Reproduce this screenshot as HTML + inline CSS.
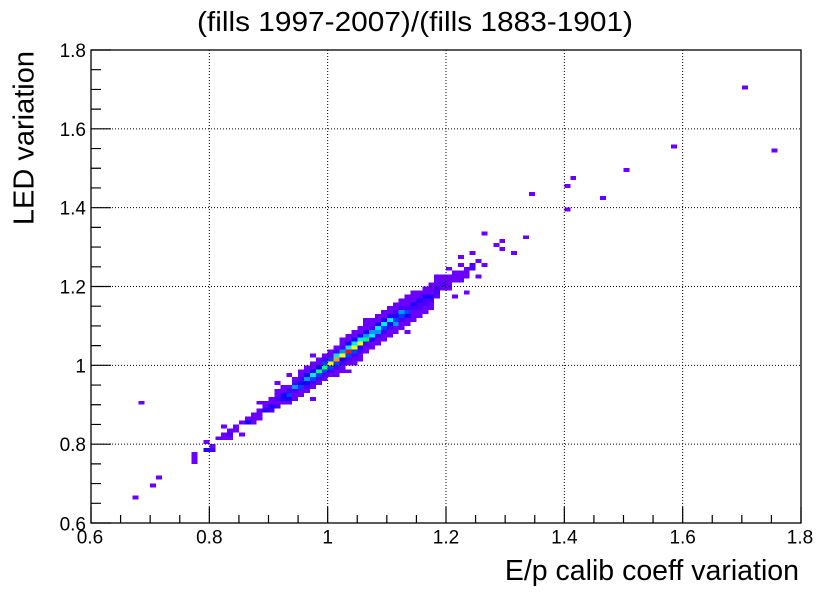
<!DOCTYPE html>
<html>
<head>
<meta charset="utf-8">
<style>
html,body{margin:0;padding:0;background:#fff;}
svg{display:block;}
text{font-family:"Liberation Sans",Arial,sans-serif;fill:#000;}
.c1{fill:#6a00ff}.c2{fill:#4a00ff}.c3{fill:#1c00ff}.c4{fill:#0040ff}.c5{fill:#0098ff}
.c6{fill:#00eaff}.c7{fill:#00ff6a}.c8{fill:#7cff00}.c9{fill:#f0ff00}.c10{fill:#ff9a00}.c11{fill:#ff1000}
</style>
</head>
<body>
<svg width="830" height="594" viewBox="0 0 830 594" xmlns="http://www.w3.org/2000/svg">
<rect x="0" y="0" width="830" height="594" fill="#fff"/>
<g transform="translate(91,523) scale(5.9167,-3.9417)" shape-rendering="crispEdges">
<rect class="c1" x="7" y="6" width="1" height="1"/>
<rect class="c1" x="8" y="30" width="1" height="1"/>
<rect class="c1" x="10" y="9" width="1" height="1"/>
<rect class="c1" x="11" y="11" width="1" height="1"/>
<rect class="c1" x="17" y="15" width="1" height="1"/>
<rect class="c1" x="17" y="16" width="1" height="1"/>
<rect class="c1" x="17" y="17" width="1" height="1"/>
<rect class="c3" x="19" y="18" width="1" height="1"/>
<rect class="c1" x="19" y="20" width="1" height="1"/>
<rect class="c2" x="20" y="18" width="1" height="1"/>
<rect class="c1" x="20" y="19" width="1" height="1"/>
<rect class="c1" x="21" y="21" width="1" height="1"/>
<rect class="c1" x="22" y="21" width="1" height="1"/>
<rect class="c1" x="22" y="22" width="1" height="1"/>
<rect class="c1" x="22" y="24" width="1" height="1"/>
<rect class="c1" x="23" y="21" width="1" height="1"/>
<rect class="c2" x="23" y="22" width="1" height="1"/>
<rect class="c1" x="23" y="23" width="1" height="1"/>
<rect class="c1" x="24" y="23" width="1" height="1"/>
<rect class="c1" x="24" y="24" width="1" height="1"/>
<rect class="c1" x="25" y="22" width="1" height="1"/>
<rect class="c1" x="25" y="25" width="1" height="1"/>
<rect class="c3" x="26" y="25" width="1" height="1"/>
<rect class="c1" x="26" y="26" width="1" height="1"/>
<rect class="c1" x="27" y="25" width="1" height="1"/>
<rect class="c1" x="27" y="26" width="1" height="1"/>
<rect class="c1" x="27" y="27" width="1" height="1"/>
<rect class="c1" x="28" y="26" width="1" height="1"/>
<rect class="c1" x="28" y="27" width="1" height="1"/>
<rect class="c1" x="28" y="28" width="1" height="1"/>
<rect class="c1" x="28" y="30" width="1" height="1"/>
<rect class="c3" x="29" y="28" width="1" height="1"/>
<rect class="c1" x="29" y="29" width="1" height="1"/>
<rect class="c1" x="29" y="30" width="1" height="1"/>
<rect class="c2" x="30" y="28" width="1" height="1"/>
<rect class="c3" x="30" y="29" width="1" height="1"/>
<rect class="c1" x="30" y="30" width="1" height="1"/>
<rect class="c1" x="30" y="31" width="1" height="1"/>
<rect class="c2" x="31" y="29" width="1" height="1"/>
<rect class="c1" x="31" y="30" width="1" height="1"/>
<rect class="c2" x="31" y="31" width="1" height="1"/>
<rect class="c1" x="31" y="32" width="1" height="1"/>
<rect class="c1" x="31" y="33" width="1" height="1"/>
<rect class="c1" x="31" y="35" width="1" height="1"/>
<rect class="c1" x="32" y="30" width="1" height="1"/>
<rect class="c3" x="32" y="31" width="1" height="1"/>
<rect class="c3" x="32" y="32" width="1" height="1"/>
<rect class="c1" x="32" y="33" width="1" height="1"/>
<rect class="c1" x="32" y="34" width="1" height="1"/>
<rect class="c1" x="33" y="30" width="1" height="1"/>
<rect class="c3" x="33" y="31" width="1" height="1"/>
<rect class="c4" x="33" y="32" width="1" height="1"/>
<rect class="c2" x="33" y="33" width="1" height="1"/>
<rect class="c1" x="33" y="34" width="1" height="1"/>
<rect class="c1" x="33" y="37" width="1" height="1"/>
<rect class="c1" x="34" y="31" width="1" height="1"/>
<rect class="c1" x="34" y="32" width="1" height="1"/>
<rect class="c2" x="34" y="33" width="1" height="1"/>
<rect class="c5" x="34" y="34" width="1" height="1"/>
<rect class="c2" x="34" y="35" width="1" height="1"/>
<rect class="c1" x="34" y="36" width="1" height="1"/>
<rect class="c1" x="35" y="32" width="1" height="1"/>
<rect class="c1" x="35" y="33" width="1" height="1"/>
<rect class="c4" x="35" y="34" width="1" height="1"/>
<rect class="c3" x="35" y="35" width="1" height="1"/>
<rect class="c2" x="35" y="36" width="1" height="1"/>
<rect class="c1" x="35" y="37" width="1" height="1"/>
<rect class="c1" x="35" y="38" width="1" height="1"/>
<rect class="c1" x="36" y="33" width="1" height="1"/>
<rect class="c2" x="36" y="34" width="1" height="1"/>
<rect class="c3" x="36" y="35" width="1" height="1"/>
<rect class="c5" x="36" y="36" width="1" height="1"/>
<rect class="c3" x="36" y="37" width="1" height="1"/>
<rect class="c1" x="36" y="38" width="1" height="1"/>
<rect class="c1" x="36" y="39" width="1" height="1"/>
<rect class="c1" x="37" y="31" width="1" height="1"/>
<rect class="c1" x="37" y="34" width="1" height="1"/>
<rect class="c2" x="37" y="35" width="1" height="1"/>
<rect class="c4" x="37" y="36" width="1" height="1"/>
<rect class="c6" x="37" y="37" width="1" height="1"/>
<rect class="c3" x="37" y="38" width="1" height="1"/>
<rect class="c1" x="37" y="39" width="1" height="1"/>
<rect class="c1" x="37" y="40" width="1" height="1"/>
<rect class="c1" x="37" y="42" width="1" height="1"/>
<rect class="c1" x="38" y="35" width="1" height="1"/>
<rect class="c2" x="38" y="36" width="1" height="1"/>
<rect class="c4" x="38" y="37" width="1" height="1"/>
<rect class="c7" x="38" y="38" width="1" height="1"/>
<rect class="c3" x="38" y="39" width="1" height="1"/>
<rect class="c1" x="38" y="40" width="1" height="1"/>
<rect class="c1" x="38" y="41" width="1" height="1"/>
<rect class="c1" x="39" y="36" width="1" height="1"/>
<rect class="c2" x="39" y="37" width="1" height="1"/>
<rect class="c4" x="39" y="38" width="1" height="1"/>
<rect class="c7" x="39" y="39" width="1" height="1"/>
<rect class="c4" x="39" y="40" width="1" height="1"/>
<rect class="c2" x="39" y="41" width="1" height="1"/>
<rect class="c1" x="39" y="42" width="1" height="1"/>
<rect class="c1" x="40" y="37" width="1" height="1"/>
<rect class="c2" x="40" y="38" width="1" height="1"/>
<rect class="c4" x="40" y="39" width="1" height="1"/>
<rect class="c9" x="40" y="40" width="1" height="1"/>
<rect class="c4" x="40" y="41" width="1" height="1"/>
<rect class="c1" x="40" y="42" width="1" height="1"/>
<rect class="c1" x="40" y="43" width="1" height="1"/>
<rect class="c1" x="41" y="37" width="1" height="1"/>
<rect class="c1" x="41" y="38" width="1" height="1"/>
<rect class="c2" x="41" y="39" width="1" height="1"/>
<rect class="c4" x="41" y="40" width="1" height="1"/>
<rect class="c10" x="41" y="41" width="1" height="1"/>
<rect class="c6" x="41" y="42" width="1" height="1"/>
<rect class="c2" x="41" y="43" width="1" height="1"/>
<rect class="c1" x="41" y="44" width="1" height="1"/>
<rect class="c1" x="42" y="38" width="1" height="1"/>
<rect class="c1" x="42" y="39" width="1" height="1"/>
<rect class="c2" x="42" y="40" width="1" height="1"/>
<rect class="c3" x="42" y="41" width="1" height="1"/>
<rect class="c9" x="42" y="42" width="1" height="1"/>
<rect class="c5" x="42" y="43" width="1" height="1"/>
<rect class="c2" x="42" y="44" width="1" height="1"/>
<rect class="c1" x="42" y="45" width="1" height="1"/>
<rect class="c1" x="42" y="46" width="1" height="1"/>
<rect class="c1" x="43" y="38" width="1" height="1"/>
<rect class="c1" x="43" y="40" width="1" height="1"/>
<rect class="c2" x="43" y="41" width="1" height="1"/>
<rect class="c4" x="43" y="42" width="1" height="1"/>
<rect class="c11" x="43" y="43" width="1" height="1"/>
<rect class="c6" x="43" y="44" width="1" height="1"/>
<rect class="c3" x="43" y="45" width="1" height="1"/>
<rect class="c1" x="43" y="46" width="1" height="1"/>
<rect class="c1" x="43" y="47" width="1" height="1"/>
<rect class="c1" x="44" y="40" width="1" height="1"/>
<rect class="c1" x="44" y="41" width="1" height="1"/>
<rect class="c2" x="44" y="42" width="1" height="1"/>
<rect class="c4" x="44" y="43" width="1" height="1"/>
<rect class="c9" x="44" y="44" width="1" height="1"/>
<rect class="c6" x="44" y="45" width="1" height="1"/>
<rect class="c3" x="44" y="46" width="1" height="1"/>
<rect class="c1" x="44" y="47" width="1" height="1"/>
<rect class="c1" x="44" y="48" width="1" height="1"/>
<rect class="c1" x="45" y="41" width="1" height="1"/>
<rect class="c1" x="45" y="42" width="1" height="1"/>
<rect class="c2" x="45" y="43" width="1" height="1"/>
<rect class="c3" x="45" y="44" width="1" height="1"/>
<rect class="c9" x="45" y="45" width="1" height="1"/>
<rect class="c6" x="45" y="46" width="1" height="1"/>
<rect class="c3" x="45" y="47" width="1" height="1"/>
<rect class="c1" x="45" y="48" width="1" height="1"/>
<rect class="c1" x="45" y="49" width="1" height="1"/>
<rect class="c1" x="46" y="43" width="1" height="1"/>
<rect class="c1" x="46" y="44" width="1" height="1"/>
<rect class="c2" x="46" y="45" width="1" height="1"/>
<rect class="c7" x="46" y="46" width="1" height="1"/>
<rect class="c5" x="46" y="47" width="1" height="1"/>
<rect class="c3" x="46" y="48" width="1" height="1"/>
<rect class="c1" x="46" y="49" width="1" height="1"/>
<rect class="c1" x="46" y="50" width="1" height="1"/>
<rect class="c1" x="46" y="51" width="1" height="1"/>
<rect class="c1" x="47" y="44" width="1" height="1"/>
<rect class="c1" x="47" y="45" width="1" height="1"/>
<rect class="c3" x="47" y="46" width="1" height="1"/>
<rect class="c6" x="47" y="47" width="1" height="1"/>
<rect class="c5" x="47" y="48" width="1" height="1"/>
<rect class="c2" x="47" y="49" width="1" height="1"/>
<rect class="c1" x="47" y="50" width="1" height="1"/>
<rect class="c1" x="47" y="51" width="1" height="1"/>
<rect class="c1" x="48" y="45" width="1" height="1"/>
<rect class="c1" x="48" y="46" width="1" height="1"/>
<rect class="c2" x="48" y="47" width="1" height="1"/>
<rect class="c5" x="48" y="48" width="1" height="1"/>
<rect class="c6" x="48" y="49" width="1" height="1"/>
<rect class="c3" x="48" y="50" width="1" height="1"/>
<rect class="c1" x="48" y="51" width="1" height="1"/>
<rect class="c1" x="48" y="52" width="1" height="1"/>
<rect class="c1" x="49" y="46" width="1" height="1"/>
<rect class="c1" x="49" y="47" width="1" height="1"/>
<rect class="c2" x="49" y="48" width="1" height="1"/>
<rect class="c4" x="49" y="49" width="1" height="1"/>
<rect class="c6" x="49" y="50" width="1" height="1"/>
<rect class="c3" x="49" y="51" width="1" height="1"/>
<rect class="c1" x="49" y="52" width="1" height="1"/>
<rect class="c1" x="49" y="53" width="1" height="1"/>
<rect class="c1" x="50" y="47" width="1" height="1"/>
<rect class="c1" x="50" y="48" width="1" height="1"/>
<rect class="c2" x="50" y="49" width="1" height="1"/>
<rect class="c3" x="50" y="50" width="1" height="1"/>
<rect class="c6" x="50" y="51" width="1" height="1"/>
<rect class="c3" x="50" y="52" width="1" height="1"/>
<rect class="c1" x="50" y="53" width="1" height="1"/>
<rect class="c1" x="50" y="54" width="1" height="1"/>
<rect class="c1" x="51" y="48" width="1" height="1"/>
<rect class="c1" x="51" y="49" width="1" height="1"/>
<rect class="c5" x="51" y="50" width="1" height="1"/>
<rect class="c4" x="51" y="51" width="1" height="1"/>
<rect class="c3" x="51" y="52" width="1" height="1"/>
<rect class="c2" x="51" y="53" width="1" height="1"/>
<rect class="c1" x="51" y="54" width="1" height="1"/>
<rect class="c1" x="51" y="55" width="1" height="1"/>
<rect class="c1" x="52" y="49" width="1" height="1"/>
<rect class="c1" x="52" y="50" width="1" height="1"/>
<rect class="c2" x="52" y="51" width="1" height="1"/>
<rect class="c4" x="52" y="52" width="1" height="1"/>
<rect class="c5" x="52" y="53" width="1" height="1"/>
<rect class="c2" x="52" y="54" width="1" height="1"/>
<rect class="c1" x="52" y="55" width="1" height="1"/>
<rect class="c1" x="52" y="56" width="1" height="1"/>
<rect class="c1" x="53" y="48" width="1" height="1"/>
<rect class="c1" x="53" y="50" width="1" height="1"/>
<rect class="c1" x="53" y="51" width="1" height="1"/>
<rect class="c3" x="53" y="52" width="1" height="1"/>
<rect class="c4" x="53" y="53" width="1" height="1"/>
<rect class="c2" x="53" y="54" width="1" height="1"/>
<rect class="c1" x="53" y="55" width="1" height="1"/>
<rect class="c1" x="53" y="56" width="1" height="1"/>
<rect class="c1" x="53" y="57" width="1" height="1"/>
<rect class="c1" x="54" y="51" width="1" height="1"/>
<rect class="c1" x="54" y="52" width="1" height="1"/>
<rect class="c1" x="54" y="53" width="1" height="1"/>
<rect class="c2" x="54" y="54" width="1" height="1"/>
<rect class="c3" x="54" y="55" width="1" height="1"/>
<rect class="c1" x="54" y="56" width="1" height="1"/>
<rect class="c1" x="54" y="57" width="1" height="1"/>
<rect class="c1" x="54" y="58" width="1" height="1"/>
<rect class="c1" x="55" y="52" width="1" height="1"/>
<rect class="c1" x="55" y="53" width="1" height="1"/>
<rect class="c2" x="55" y="54" width="1" height="1"/>
<rect class="c2" x="55" y="55" width="1" height="1"/>
<rect class="c3" x="55" y="56" width="1" height="1"/>
<rect class="c1" x="55" y="57" width="1" height="1"/>
<rect class="c1" x="55" y="58" width="1" height="1"/>
<rect class="c1" x="56" y="53" width="1" height="1"/>
<rect class="c1" x="56" y="54" width="1" height="1"/>
<rect class="c2" x="56" y="55" width="1" height="1"/>
<rect class="c2" x="56" y="56" width="1" height="1"/>
<rect class="c3" x="56" y="57" width="1" height="1"/>
<rect class="c1" x="56" y="58" width="1" height="1"/>
<rect class="c1" x="56" y="59" width="1" height="1"/>
<rect class="c1" x="57" y="54" width="1" height="1"/>
<rect class="c1" x="57" y="55" width="1" height="1"/>
<rect class="c2" x="57" y="56" width="1" height="1"/>
<rect class="c3" x="57" y="57" width="1" height="1"/>
<rect class="c1" x="57" y="58" width="1" height="1"/>
<rect class="c1" x="57" y="59" width="1" height="1"/>
<rect class="c1" x="57" y="60" width="1" height="1"/>
<rect class="c1" x="58" y="57" width="1" height="1"/>
<rect class="c2" x="58" y="58" width="1" height="1"/>
<rect class="c2" x="58" y="59" width="1" height="1"/>
<rect class="c1" x="58" y="60" width="1" height="1"/>
<rect class="c1" x="58" y="61" width="1" height="1"/>
<rect class="c1" x="58" y="62" width="1" height="1"/>
<rect class="c1" x="59" y="59" width="1" height="1"/>
<rect class="c2" x="59" y="60" width="1" height="1"/>
<rect class="c1" x="59" y="61" width="1" height="1"/>
<rect class="c1" x="59" y="62" width="1" height="1"/>
<rect class="c1" x="60" y="59" width="1" height="1"/>
<rect class="c1" x="60" y="60" width="1" height="1"/>
<rect class="c1" x="60" y="61" width="1" height="1"/>
<rect class="c1" x="60" y="62" width="1" height="1"/>
<rect class="c1" x="60" y="64" width="1" height="1"/>
<rect class="c1" x="61" y="57" width="1" height="1"/>
<rect class="c1" x="61" y="61" width="1" height="1"/>
<rect class="c1" x="61" y="62" width="1" height="1"/>
<rect class="c1" x="61" y="63" width="1" height="1"/>
<rect class="c1" x="62" y="61" width="1" height="1"/>
<rect class="c1" x="62" y="62" width="1" height="1"/>
<rect class="c1" x="62" y="63" width="1" height="1"/>
<rect class="c1" x="62" y="65" width="1" height="1"/>
<rect class="c1" x="62" y="67" width="1" height="1"/>
<rect class="c1" x="63" y="58" width="1" height="1"/>
<rect class="c1" x="63" y="62" width="1" height="1"/>
<rect class="c1" x="63" y="63" width="1" height="1"/>
<rect class="c1" x="63" y="64" width="1" height="1"/>
<rect class="c2" x="64" y="64" width="1" height="1"/>
<rect class="c2" x="64" y="65" width="1" height="1"/>
<rect class="c1" x="64" y="68" width="1" height="1"/>
<rect class="c1" x="65" y="62" width="1" height="1"/>
<rect class="c1" x="65" y="66" width="1" height="1"/>
<rect class="c1" x="66" y="65" width="1" height="1"/>
<rect class="c1" x="66" y="73" width="1" height="1"/>
<rect class="c1" x="68" y="70" width="1" height="1"/>
<rect class="c1" x="69" y="69" width="1" height="1"/>
<rect class="c1" x="69" y="71" width="1" height="1"/>
<rect class="c1" x="71" y="68" width="1" height="1"/>
<rect class="c1" x="73" y="72" width="1" height="1"/>
<rect class="c1" x="74" y="83" width="1" height="1"/>
<rect class="c1" x="80" y="79" width="1" height="1"/>
<rect class="c1" x="80" y="85" width="1" height="1"/>
<rect class="c1" x="81" y="87" width="1" height="1"/>
<rect class="c1" x="86" y="82" width="1" height="1"/>
<rect class="c1" x="90" y="89" width="1" height="1"/>
<rect class="c1" x="98" y="95" width="1" height="1"/>
<rect class="c1" x="110" y="110" width="1" height="1"/>
<rect class="c1" x="115" y="94" width="1" height="1"/>
</g>
<g stroke="#000" stroke-width="1" stroke-dasharray="1 2" fill="none">
<path d="M209.33 50V523M327.67 50V523M446 50V523M564.33 50V523M682.67 50V523"/>
<path d="M91 444.17H801M91 365.33H801M91 286.5H801M91 207.67H801M91 128.83H801"/>
</g>
<rect x="91" y="50" width="710" height="473" fill="none" stroke="#000" stroke-width="1.3"/>
<g stroke="#000" stroke-width="1.2" fill="none">
<path d="M91 523V507M120.58 523V515M150.17 523V515M179.75 523V515M209.33 523V507M238.92 523V515M268.5 523V515M298.08 523V515M327.67 523V507M357.25 523V515M386.83 523V515M416.42 523V515M446 523V507M475.58 523V515M505.17 523V515M534.75 523V515M564.33 523V507M593.92 523V515M623.5 523V515M653.08 523V515M682.67 523V507M712.25 523V515M741.83 523V515M771.42 523V515M801 523V507"/>
<path d="M91 523H111M91 503.29H101M91 483.58H101M91 463.88H101M91 444.17H111M91 424.46H101M91 404.75H101M91 385.04H101M91 365.33H111M91 345.63H101M91 325.92H101M91 306.21H101M91 286.5H111M91 266.79H101M91 247.08H101M91 227.38H101M91 207.67H111M91 187.96H101M91 168.25H101M91 148.54H101M91 128.83H111M91 109.13H101M91 89.42H101M91 69.71H101M91 50H111"/>
</g>
<g font-size="19" text-anchor="middle">
<text x="90" y="543.5">0.6</text>
<text x="209.33" y="543.5">0.8</text>
<text x="327.67" y="543.5">1</text>
<text x="446" y="543.5">1.2</text>
<text x="564.33" y="543.5">1.4</text>
<text x="682.67" y="543.5">1.6</text>
<text x="800" y="543.5">1.8</text>
</g>
<g font-size="19" text-anchor="end">
<text x="86" y="530.5">0.6</text>
<text x="86" y="451.2">0.8</text>
<text x="86" y="372.3">1</text>
<text x="86" y="293.5">1.2</text>
<text x="86" y="214.7">1.4</text>
<text x="86" y="135.8">1.6</text>
<text x="86" y="57">1.8</text>
</g>
<text x="415" y="31" font-size="28" text-anchor="middle" textLength="436" lengthAdjust="spacingAndGlyphs">(fills 1997-2007)/(fills 1883-1901)</text>
<text transform="translate(33.5,51) rotate(-90)" font-size="29" text-anchor="end">LED variation</text>
<text x="799" y="580" font-size="28.5" text-anchor="end">E/p calib coeff variation</text>
</svg>
</body>
</html>
